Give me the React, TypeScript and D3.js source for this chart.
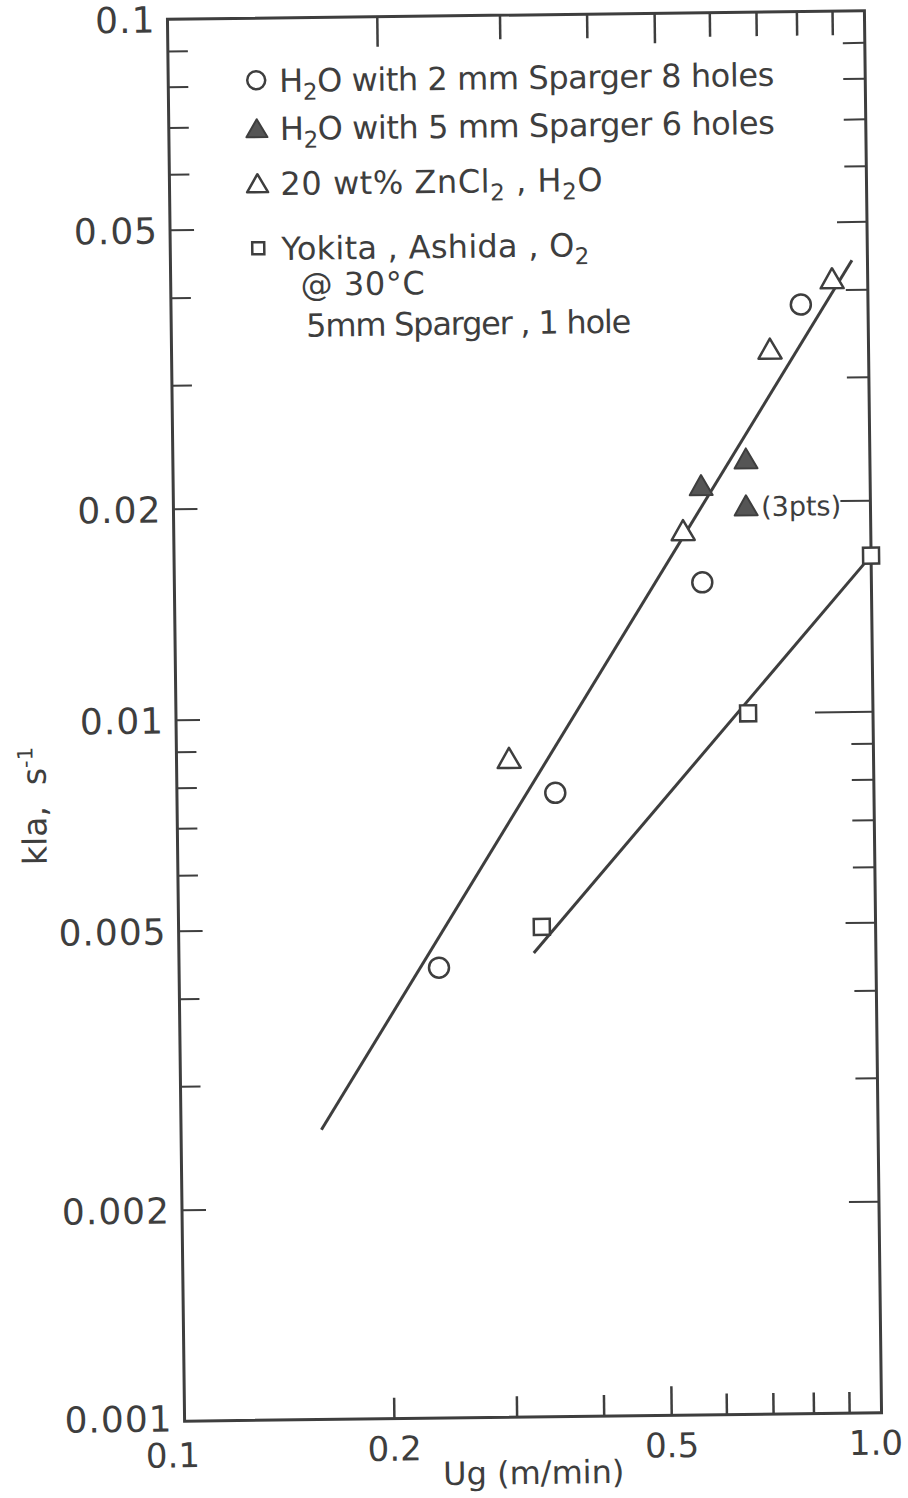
import React from 'react';
import * as d3 from 'd3';

// ---- data (Ug in m/min, kLa in 1/s) ----
const circleUg = [0.236, 0.349, 0.572, 0.801];
const circleKla = [0.00439, 0.00776, 0.0154, 0.0382];

const filledTriUg = [0.572, 0.664, 0.663];
const filledTriKla = [0.0212, 0.0231, 0.0198];

const openTriUg = [0.300, 0.538, 0.722, 0.889];
const openTriKla = [0.00872, 0.0183, 0.0331, 0.0416];

const squareUg = [0.332, 0.662, 1.0];
const squareKla = [0.0050, 0.0100, 0.0167];

const fitUpperUg = [0.159, 0.950];
const fitUpperKla = [0.00259, 0.0441];
const fitLowerUg = [0.323, 1.0];
const fitLowerKla = [0.00459, 0.0167];

const yTickValues = [0.001, 0.002, 0.005, 0.01, 0.02, 0.05, 0.1];
const yTickLabels = ['0.001', '0.002', '0.005', '0.01', '0.02', '0.05', '0.1'];
const xTickValues = [0.1, 0.2, 0.5, 1.0];
const xTickLabels = ['0.1', '0.2', '0.5', '1.0'];
const xMinor = [0.2, 0.3, 0.4, 0.5, 0.6, 0.7, 0.8, 0.9];
const yMinor = [0.002, 0.003, 0.004, 0.005, 0.006, 0.007, 0.008, 0.009, 0.01,
  0.02, 0.03, 0.04, 0.05, 0.06, 0.07, 0.08, 0.09];

const INK = '#3e3e3e';
const FONT = '"DejaVu Sans", sans-serif';

const zip = (a: number[], b: number[]) => a.map((v, i) => [v, b[i]] as [number, number]);

export default function App() {
  const W = 908, H = 1498;
  const m = { left: 176, right: 873, top: 15, bottom: 1417 };
  const x = d3.scaleLog().domain([0.1, 1]).range([m.left, m.right]);
  const y = d3.scaleLog().domain([0.001, 0.1]).range([m.bottom, m.top]);
  const line = d3.line<[number, number]>().x(d => x(d[0])).y(d => y(d[1]));

  const tri = 'M0,-10 L11.5,10 L-11.5,10 Z';
  const triSmall = 'M0,-9 L10.5,9 L-10.5,9 Z';

  const circles = zip(circleUg, circleKla);
  const filled = zip(filledTriUg, filledTriKla);
  const open = zip(openTriUg, openTriKla);
  const squares = zip(squareUg, squareKla);

  const xTickLenBottom = (v: number) => (Math.abs(v - 0.5) < 1e-9 ? 29 : 21);
  const xTickLenTop = (v: number) => (Math.abs(v - 0.5) < 1e-9 || Math.abs(v - 0.2) < 1e-9 ? 30 : 24);
  const isLabeled = (v: number) => yTickValues.some(t => Math.abs(t - v) / v < 1e-6);
  const yTickLenLeft = (v: number) => (isLabeled(v) ? 24 : 20);
  const yTickLenRight = (v: number) => (Math.abs(v - 0.01) < 1e-9 ? 58 : isLabeled(v) ? 30 : 22);

  const legendX = 264;
  const textX = 287;
  const rows = [89, 137, 192, 257];
  const xLabelDx = [-12, 0, 0, -6];

  return (
    <svg width={W} height={H} style={{ position: 'absolute', left: 0, top: 0, background: '#fff' }}
      fontFamily={FONT}>
      <rect x={0} y={0} width={W} height={H} fill="#fff" />
      <g transform="rotate(-0.7, 524.5, 716)">
        {/* frame */}
        <rect x={m.left} y={m.top} width={m.right - m.left} height={m.bottom - m.top}
          fill="none" stroke={INK} strokeWidth={3} />

        {/* x ticks bottom / top */}
        {xMinor.map(v => (
          <g key={'xt' + v}>
            <line x1={x(v)} x2={x(v)} y1={m.bottom} y2={m.bottom - xTickLenBottom(v)} stroke={INK} strokeWidth={2.5} />
            <line x1={x(v)} x2={x(v)} y1={m.top} y2={m.top + xTickLenTop(v)} stroke={INK} strokeWidth={2.5} />
          </g>
        ))}

        {/* y ticks left / right */}
        {yMinor.map(v => (
          <g key={'yt' + v}>
            <line x1={m.left} x2={m.left + yTickLenLeft(v)} y1={y(v)} y2={y(v)} stroke={INK} strokeWidth={2} />
            <line x1={m.right} x2={m.right - yTickLenRight(v)} y1={y(v)} y2={y(v)} stroke={INK} strokeWidth={2} />
          </g>
        ))}

        {/* y tick labels */}
        {yTickValues.map((v, i) => (
          <text key={'yl' + v} x={m.left - 12} y={y(v) + (i === 0 ? 10 : 13)} textAnchor="end" fontSize={36}
            fill={INK} letterSpacing={1}>{yTickLabels[i]}</text>
        ))}

        {/* x tick labels */}
        {xTickValues.map((v, i) => (
          <text key={'xl' + v} x={x(v) + xLabelDx[i]} y={m.bottom + (i === 0 ? 46 : 42)}
            textAnchor="middle" fontSize={34} fill={INK}>{xTickLabels[i]}</text>
        ))}

        {/* axis titles */}
        <text x={(m.left + m.right) / 2} y={m.bottom + 67} textAnchor="middle" fontSize={32} fill={INK}>
          Ug (m/min)
        </text>
        <text transform="translate(45,800) rotate(-90)" textAnchor="middle" fontSize={33} fill={INK}>
          kla,{'\u00A0\u00A0'}s<tspan dy={-13} fontSize={21}>-1</tspan>
        </text>

        {/* fitted lines */}
        <path d={line(zip(fitUpperUg, fitUpperKla)) || ''} fill="none" stroke={INK} strokeWidth={3} />
        <path d={line(zip(fitLowerUg, fitLowerKla)) || ''} fill="none" stroke={INK} strokeWidth={3} />

        {/* markers */}
        {circles.map((d, i) => (
          <circle key={'c' + i} cx={x(d[0])} cy={y(d[1])} r={10} fill="#fff" stroke={INK} strokeWidth={2.5} />
        ))}
        {open.map((d, i) => (
          <path key={'o' + i} d={tri} transform={`translate(${x(d[0])},${y(d[1])})`} fill="#fff"
            stroke={INK} strokeWidth={2.5} strokeLinejoin="round" />
        ))}
        {filled.map((d, i) => (
          <path key={'f' + i} d={tri} transform={`translate(${x(d[0])},${y(d[1])})`} fill="#555"
            stroke={INK} strokeWidth={2} strokeLinejoin="round" />
        ))}
        {squares.map((d, i) => (
          <rect key={'s' + i} x={x(d[0]) - 8} y={y(d[1]) - 8} width={16} height={16} fill="#fff"
            stroke={INK} strokeWidth={2.5} />
        ))}
        <text x={x(filled[2][0]) + 15} y={y(filled[2][1]) + 11} fontSize={27} fill={INK}>(3pts)</text>

        {/* legend */}
        <circle cx={legendX} cy={rows[0] - 12} r={9} fill="#fff" stroke={INK} strokeWidth={2.5} />
        <text x={textX} y={rows[0]} fontSize={32} fill={INK} textLength={495} lengthAdjust="spacing">
          H<tspan dy={8} fontSize={23}>2</tspan><tspan dy={-8}>O  with  2 mm  Sparger  8 holes</tspan>
        </text>

        <path d={triSmall} transform={`translate(${legendX},${rows[1] - 12})`} fill="#555" stroke={INK}
          strokeWidth={2} strokeLinejoin="round" />
        <text x={textX} y={rows[1]} fontSize={32} fill={INK} textLength={495} lengthAdjust="spacing">
          H<tspan dy={8} fontSize={23}>2</tspan><tspan dy={-8}>O  with  5 mm  Sparger  6 holes</tspan>
        </text>

        <path d={triSmall} transform={`translate(${legendX},${rows[2] - 12})`} fill="#fff" stroke={INK}
          strokeWidth={2.5} strokeLinejoin="round" />
        <text x={textX} y={rows[2]} fontSize={32} fill={INK} textLength={322} lengthAdjust="spacing">
          20 wt%  ZnCl<tspan dy={8} fontSize={23}>2</tspan><tspan dy={-8}> , H</tspan>
          <tspan dy={8} fontSize={23}>2</tspan><tspan dy={-8}>O</tspan>
        </text>

        <rect x={legendX - 6} y={rows[3] - 18} width={12} height={12} fill="#fff" stroke={INK} strokeWidth={2.5} />
        <text x={textX} y={rows[3]} fontSize={32} fill={INK} textLength={308} lengthAdjust="spacing">
          Yokita , Ashida , O<tspan dy={8} fontSize={23}>2</tspan>
        </text>
        <text x={306} y={293} fontSize={32} fill={INK} textLength={124} lengthAdjust="spacing">@ 30°C</text>
        <text x={311} y={334} fontSize={32} fill={INK} textLength={325} lengthAdjust="spacing">5mm Sparger , 1 hole</text>
      </g>
    </svg>
  );
}
